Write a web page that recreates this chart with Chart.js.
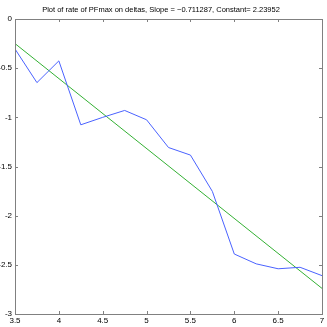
<!DOCTYPE html>
<html>
<head>
<meta charset="utf-8">
<script src="https://cdn.jsdelivr.net/npm/chart.js@4/dist/chart.umd.min.js"></script>
<style>
  html, body { margin: 0; padding: 0; background: #ffffff; }
  #plot { display: block; }
</style>
</head>
<body>
<canvas id="plot" width="327" height="327"></canvas>
<script>
// data
const deltas = [3.5, 3.75, 4, 4.25, 4.5, 4.75, 5, 5.25, 5.5, 5.75, 6, 6.25, 6.5, 6.75, 7];
const ratePF = [-0.305, -0.647, -0.426, -1.076, -1.0, -0.93, -1.025, -1.307, -1.384, -1.753, -2.39, -2.49, -2.54, -2.525, -2.61];
const slope = -0.711287;
const constant = 2.23952;
const xTicks = [3.5, 4, 4.5, 5, 5.5, 6, 6.5, 7];
const xTickLabels = ['3.5', '4', '4.5', '5', '5.5', '6', '6.5', '7'];
const yTicks = [-3, -2.5, -2, -1.5, -1, -0.5, 0];
const yTickLabels = ['-3', '-2.5', '-2', '-1.5', '-1', '-0.5', '0'];

const fitX = [deltas[0], deltas[deltas.length - 1]];
const fitLine = fitX.map(function (x) { return { x: x, y: constant + slope * x }; });
const dataLine = deltas.map(function (x, i) { return { x: x, y: ratePF[i] }; });

const FONT = "'Liberation Sans Narrow', 'Liberation Sans', Arial, sans-serif";

// MATLAB style box with inward ticks on all four sides
const boxPlugin = {
  id: 'matlabBox',
  afterDraw: function (chart) {
    const ctx = chart.ctx;
    const a = chart.chartArea;
    const xs = chart.scales.x, ys = chart.scales.y;
    ctx.save();
    ctx.strokeStyle = '#808080';
    ctx.lineWidth = 1;
    ctx.strokeRect(Math.round(a.left) + 0.5, Math.round(a.top) + 0.5,
      Math.round(a.right - a.left), Math.round(a.bottom - a.top));
    ctx.beginPath();
    xTicks.forEach(function (v) {
      const px = Math.round(xs.getPixelForValue(v)) + 0.5;
      ctx.moveTo(px, a.bottom); ctx.lineTo(px, a.bottom - 3);
      ctx.moveTo(px, a.top); ctx.lineTo(px, a.top + 3);
    });
    yTicks.forEach(function (v) {
      const py = Math.round(ys.getPixelForValue(v)) + 0.5;
      ctx.moveTo(a.left, py); ctx.lineTo(a.left + 3, py);
      ctx.moveTo(a.right, py); ctx.lineTo(a.right - 3, py);
    });
    ctx.stroke();
    ctx.restore();
  }
};

new Chart(document.getElementById('plot'), {
  type: 'line',
  data: {
    datasets: [
      {
        label: 'rate of PFmax',
        data: dataLine,
        borderColor: '#4a62ff',
        borderWidth: 1,
        pointRadius: 0,
        tension: 0,
        fill: false
      },
      {
        label: 'fit',
        data: fitLine,
        borderColor: '#33b033',
        borderWidth: 1,
        pointRadius: 0,
        tension: 0,
        fill: false
      }
    ]
  },
  options: {
    responsive: false,
    animation: false,
    devicePixelRatio: 1,
    layout: { padding: { left: 0, right: 5, top: 0, bottom: 0 } },
    plugins: {
      legend: { display: false },
      tooltip: { enabled: false },
      title: {
        display: true,
        text: 'Plot of rate of PFmax on deltas, Slope = \u22120.711287, Constant= 2.23952',
        color: '#000000',
        font: { family: FONT, size: 7.5, weight: 'normal', lineHeight: 1.2 },
        padding: { top: 5.2, bottom: 4.8 }
      }
    },
    scales: {
      x: {
        type: 'linear',
        min: 3.5,
        max: 7,
        grid: { display: false, drawTicks: false },
        border: { display: false },
        afterBuildTicks: function (scale) {
          scale.ticks = xTicks.map(function (v) { return { value: v }; });
        },
        afterFit: function (scale) { scale.height = 13; },
        ticks: {
          color: '#000000',
          padding: 2,
          maxRotation: 0,
          autoSkip: false,
          font: { family: FONT, size: 8 },
          callback: function (value) {
            const i = xTicks.indexOf(value);
            return i >= 0 ? xTickLabels[i] : '';
          }
        }
      },
      y: {
        type: 'linear',
        min: -3,
        max: 0,
        grid: { display: false, drawTicks: false },
        border: { display: false },
        afterBuildTicks: function (scale) {
          scale.ticks = yTicks.map(function (v) { return { value: v }; });
        },
        afterFit: function (scale) { scale.width = 15; },
        ticks: {
          color: '#000000',
          padding: 3,
          autoSkip: false,
          font: { family: FONT, size: 8 },
          callback: function (value) {
            const i = yTicks.indexOf(value);
            return i >= 0 ? yTickLabels[i] : '';
          }
        }
      }
    }
  },
  plugins: [boxPlugin]
});
</script>
</body>
</html>
